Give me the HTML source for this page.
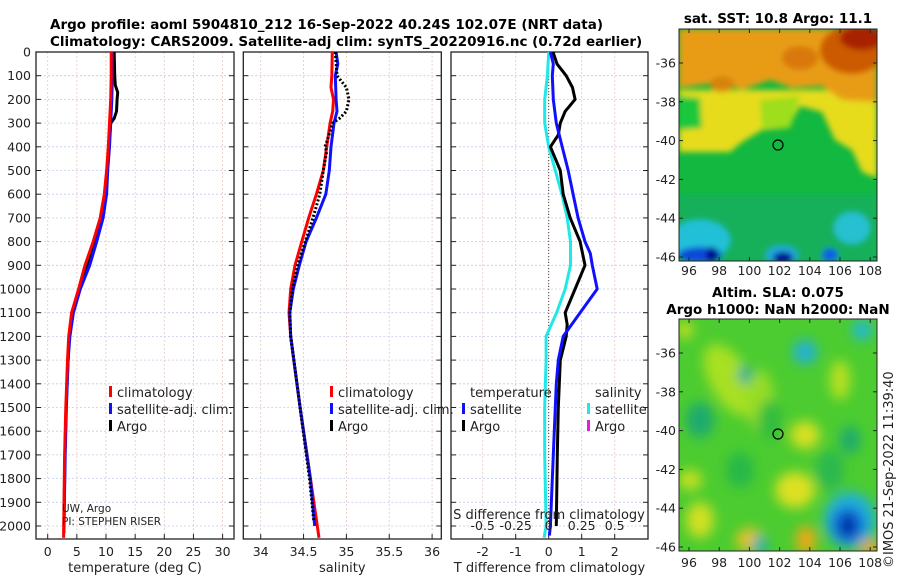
<!DOCTYPE html>
<html><head><meta charset="utf-8">
<style>
html,body{margin:0;padding:0;background:#fff;}
svg{display:block;font-family:"DejaVu Sans","Liberation Sans",sans-serif;}
</style></head>
<body>
<svg id="fig" width="900" height="580" viewBox="0 0 900 580" xmlns="http://www.w3.org/2000/svg">
<defs>
<filter id="blur1" x="-10%" y="-10%" width="120%" height="120%"><feGaussianBlur stdDeviation="3"/></filter>
<filter id="blur2" x="-20%" y="-20%" width="140%" height="140%"><feGaussianBlur stdDeviation="6"/></filter>
<clipPath id="clipTop"><rect x="679" y="29" width="198" height="232"/></clipPath>
<clipPath id="clipBot"><rect x="679" y="319" width="198" height="232"/></clipPath>
</defs>
<text x="50" y="29" font-size="13.5" font-weight="bold">Argo profile: aoml 5904810_212 16-Sep-2022 40.24S 102.07E (NRT data)</text>
<text x="50" y="46" font-size="13.5" font-weight="bold">Climatology: CARS2009. Satellite-adj clim: synTS_20220916.nc (0.72d earlier)</text>

<!-- top map -->
<g clip-path="url(#clipTop)">
  <rect x="679" y="29" width="198" height="232" fill="#12b840"/>
  <g filter="url(#blur1)">
    <rect x="679" y="195" width="198" height="70" fill="#14b05a"/>
    <polygon fill="#e6dc1e" points="679,90 877,90 877,178 862,172 852,150 835,140 822,112 800,106 788,128 762,130 742,142 730,152 679,152"/>
    <polygon fill="#9ede1e" points="760,100 800,96 790,128 762,128"/>
    <polygon fill="#1ec83a" points="679,96 700,98 702,128 679,130"/>
    <polygon fill="#e89c12" points="679,29 877,29 877,102 842,100 822,86 792,88 770,80 742,90 722,82 679,88"/>
    <ellipse cx="852" cy="50" rx="32" ry="24" fill="#cc5a06"/>
    <ellipse cx="862" cy="38" rx="22" ry="12" fill="#a82400"/>
    <ellipse cx="800" cy="58" rx="18" ry="12" fill="#d8780a"/>
    <ellipse cx="722" cy="84" rx="12" ry="8" fill="#d8820c"/>
    <ellipse cx="700" cy="240" rx="30" ry="20" fill="#20c0d8"/>
    <ellipse cx="700" cy="255" rx="22" ry="8" fill="#1048d8"/>
    <ellipse cx="712" cy="255" rx="6" ry="8" fill="#000090"/>
    <ellipse cx="782" cy="255" rx="16" ry="9" fill="#20a8e0"/>
    <ellipse cx="783" cy="258" rx="10" ry="6" fill="#000090"/>
    <ellipse cx="852" cy="228" rx="18" ry="16" fill="#28c0d0"/>
    <ellipse cx="830" cy="255" rx="8" ry="7" fill="#1060e0"/>
  </g>
  <circle cx="778" cy="145" r="5" fill="none" stroke="#000" stroke-width="1.2"/>
</g>
<rect x="679" y="29" width="198" height="232" fill="none" stroke="#222" stroke-width="1"/>
<text x="778" y="23" font-size="13.5" font-weight="bold" text-anchor="middle">sat. SST: 10.8 Argo: 11.1</text>

<!-- bottom map -->
<g clip-path="url(#clipBot)">
  <rect x="679" y="319" width="198" height="232" fill="#4ccc30"/>
  <g filter="url(#blur2)">
    <ellipse cx="730" cy="380" rx="20" ry="40" fill="#a8e020" transform="rotate(-30 730 380)"/>
    <ellipse cx="760" cy="400" rx="14" ry="30" fill="#98dc28"/>
    <ellipse cx="700" cy="420" rx="14" ry="18" fill="#1caa70"/>
    <ellipse cx="745" cy="375" rx="7" ry="9" fill="#18a8a0"/>
    <ellipse cx="805" cy="352" rx="12" ry="12" fill="#20b0d8"/>
    <ellipse cx="862" cy="330" rx="10" ry="10" fill="#20b8d8"/>
    <ellipse cx="805" cy="435" rx="15" ry="14" fill="#d6e020"/>
    <ellipse cx="795" cy="490" rx="20" ry="18" fill="#dde020"/>
    <ellipse cx="806" cy="540" rx="10" ry="14" fill="#f0a818"/>
    <ellipse cx="750" cy="540" rx="14" ry="12" fill="#e8c020"/>
    <ellipse cx="700" cy="520" rx="14" ry="18" fill="#d0e020"/>
    <ellipse cx="690" cy="480" rx="12" ry="10" fill="#c8e020"/>
    <ellipse cx="770" cy="420" rx="12" ry="20" fill="#30bc40"/>
    <ellipse cx="740" cy="470" rx="14" ry="18" fill="#28b848"/>
    <ellipse cx="830" cy="470" rx="14" ry="20" fill="#2cb850"/>
    <ellipse cx="850" cy="440" rx="10" ry="14" fill="#1caa70"/>
    <ellipse cx="760" cy="545" rx="8" ry="10" fill="#20b0b0"/>
    <ellipse cx="850" cy="520" rx="26" ry="28" fill="#20b0d8"/>
    <ellipse cx="848" cy="525" rx="16" ry="18" fill="#1060d8"/>
    <ellipse cx="848" cy="526" rx="7" ry="10" fill="#001a90"/>
    <ellipse cx="870" cy="548" rx="10" ry="8" fill="#f0a018"/>
    <ellipse cx="840" cy="380" rx="10" ry="20" fill="#b8e020"/>
    <ellipse cx="685" cy="330" rx="8" ry="8" fill="#d0e020"/>
  </g>
  <circle cx="778" cy="434" r="5" fill="none" stroke="#000" stroke-width="1.2"/>
</g>
<rect x="679" y="319" width="198" height="232" fill="none" stroke="#222" stroke-width="1"/>
<text x="778" y="297" font-size="13.5" font-weight="bold" text-anchor="middle">Altim. SLA: 0.075</text>
<text x="778" y="314" font-size="13.5" font-weight="bold" text-anchor="middle">Argo h1000: NaN h2000: NaN</text>
<text transform="translate(893 568) rotate(-90)" font-size="13" fill="#222">©IMOS 21-Sep-2022 11:39:40</text>

<g id="dyn"></g>
</svg>
<script>
// ---- data ----
const depthTicks = [0,100,200,300,400,500,600,700,800,900,1000,1100,1200,1300,1400,1500,1600,1700,1800,1900,2000];
const tempTicks = [0,5,10,15,20,25,30];
const salTicks = [34,34.5,35,35.5,36];
const tdiffTicks = [-2,-1,0,1,2];
const sdiffTicks = [-0.5,-0.25,0,0.25,0.5];
const sdiffTickLabels = ["-0.5","-0.25","0","0.25","0.5"];

const tClimDepth = [0,100,200,300,400,500,600,700,800,900,1000,1100,1200,1300,1500,1700,2000,2050];
const tClim = [10.9,10.9,10.8,10.6,10.4,10.1,9.7,9.0,7.8,6.4,5.3,4.1,3.6,3.4,3.1,2.9,2.75,2.72];
const tSatDepth = [0,100,200,300,400,500,600,700,800,900,1000,1100,1200,1300,1500,1700,2000,2030];
const tSat = [11.1,11.1,11.0,10.8,10.6,10.3,10.1,9.5,8.4,7.2,5.6,4.4,3.8,3.5,3.2,3.0,2.8,2.78];
const tArgoDepth = [0,100,140,170,200,250,280,300,400,500,600,700,800,900,1000,1100,1200,1300,1500,1700,1990];
const tArgo = [11.4,11.5,11.6,12.0,11.9,11.8,11.4,10.8,10.5,10.2,10.0,9.3,8.1,6.8,5.4,4.2,3.7,3.5,3.15,2.95,2.8];

const sClimDepth = [0,100,150,200,250,300,400,500,600,700,800,900,1000,1100,1200,1500,1700,2000,2050];
const sClim = [34.835,34.83,34.82,34.85,34.84,34.81,34.77,34.73,34.65,34.56,34.48,34.40,34.35,34.33,34.35,34.46,34.54,34.66,34.68];
const sSatDepth = [0,50,100,200,250,300,400,500,600,700,800,900,1000,1100,1200,1500,1800,2000];
const sSat = [34.88,34.90,34.87,34.88,34.89,34.855,34.82,34.80,34.76,34.65,34.53,34.45,34.38,34.34,34.35,34.46,34.58,34.63];
const sArgoDepth = [0,100,150,200,250,280,300,380,400,420,500,600,700,800,900,1000,1100,1200,1500,1800,1980];
const sArgo = [34.87,34.89,35.00,35.03,35.00,34.92,34.84,34.77,34.75,34.77,34.73,34.69,34.61,34.52,34.43,34.37,34.34,34.35,34.46,34.57,34.62];

const dTArgoDepth = [0,50,100,150,200,250,300,350,400,450,500,600,700,800,900,1000,1100,1150,1200,1300,1500,1700,2000];
const dTArgo = [0.13,0.25,0.53,0.72,0.80,0.50,0.35,0.29,0.05,0.2,0.35,0.44,0.65,0.95,1.10,0.80,0.50,0.56,0.53,0.35,0.29,0.26,0.23];
const dTSatDepth = [0,50,100,200,300,400,500,600,700,800,850,900,1000,1100,1200,1300,1400,1500,1700,2000,2040];
const dTSat = [0.05,0.14,0.11,0.14,0.23,0.41,0.59,0.74,0.89,1.10,1.26,1.32,1.47,0.95,0.44,0.29,0.23,0.20,0.14,0.05,0.02];
const dSSatDepth = [0,100,200,300,400,500,600,700,800,900,1000,1100,1200,1300,1500,1700,2000,2050];
const dSSat = [0.0,-0.01,-0.03,-0.03,0.0,0.05,0.10,0.14,0.165,0.165,0.125,0.06,-0.02,-0.02,-0.03,-0.03,-0.02,-0.035];

// ---- axes ----
const Y0 = 52, Y1 = 539;
const yD = d => Y0 + d * 0.237;
const xT = t => 47.7 + t * 5.83;
const xS = s => 260.7 + (s - 34) * 85.7;
const xDT = v => 548.7 + v * 33;
const xDS = v => 548.7 + v * 132;

const NS = "http://www.w3.org/2000/svg";
const root = document.getElementById('dyn');
function mk(tag, attrs, parent) {
  const e = document.createElementNS(NS, tag);
  for (const k in attrs) e.setAttribute(k, attrs[k]);
  (parent || root).appendChild(e);
  return e;
}

const panels = [
  {l:36, r:234, name:'temperature-panel', ticks:tempTicks, fx:xT, label:'temperature (deg C)', tl:t=>String(t)},
  {l:243.3, r:441.3, name:'salinity-panel', ticks:salTicks, fx:xS, label:'salinity', tl:t=>String(t)},
  {l:451, r:648, name:'difference-panel', ticks:tdiffTicks, fx:xDT, label:'T difference from climatology', tl:t=>String(t)}
];

panels.forEach((p, pi) => {
  const g = mk('g', {});
  
  
  depthTicks.forEach(d => {
    const y = yD(d);
    mk('line', {x1:p.l, x2:p.r, y1:y, y2:y, stroke:'#c4cbe8', 'stroke-width':0.8, 'stroke-dasharray':'2,2'}, g);
    mk('line', {x1:p.l, x2:p.l+5, y1:y, y2:y, stroke:'#222', 'stroke-width':1}, g);
    mk('line', {x1:p.r-5, x2:p.r, y1:y, y2:y, stroke:'#222', 'stroke-width':1}, g);
  });
  p.ticks.forEach(t => {
    const x = p.fx(t);
    mk('line', {x1:x, x2:x, y1:Y0, y2:Y1, stroke:'#e6c8c0', 'stroke-width':0.8, 'stroke-dasharray':'2,2'}, g);
    mk('line', {x1:x, x2:x, y1:Y1-5, y2:Y1, stroke:'#222', 'stroke-width':1}, g);
    const tx = mk('text', {x:x, y:556, 'font-size':12.5, 'text-anchor':'middle', fill:'#222'}, g);
    tx.textContent = p.tl(t);
    
    
  });
  mk('rect', {x:p.l, y:Y0, width:p.r-p.l, height:Y1-Y0, fill:'none', stroke:'#222', 'stroke-width':1.3}, g);
  const xl = mk('text', {x:(p.l+p.r)/2, y:572, 'font-size':13, 'text-anchor':'middle', fill:'#222'}, g);
  xl.textContent = p.label;
  
  
});

depthTicks.forEach(d => {
  const t = mk('text', {x:31, y:yD(d)+4.5, 'font-size':12.5, 'text-anchor':'end', fill:'#222'});
  t.textContent = String(d);
  
  
});

// zero line in difference panel
mk('line', {x1:xDT(0), x2:xDT(0), y1:Y0, y2:Y1, stroke:'#444', 'stroke-width':1, 'stroke-dasharray':'1,2'});

function series(xs, ds, fx, color, w, name, dash) {
  const pts = xs.map((v, i) => fx(v).toFixed(1) + ',' + yD(ds[i]).toFixed(1)).join(' ');
  const attrs = {points:pts, fill:'none', stroke:color, 'stroke-width':w, 'stroke-linejoin':'round'};
  if (dash) attrs['stroke-dasharray'] = dash;
  const e = mk('polyline', attrs);
  
  
}

series(tArgo, tArgoDepth, xT, '#000', 3, 'temp-argo-line');
series(tSat, tSatDepth, xT, '#1010ff', 3, 'temp-satellite-line');
series(tClim, tClimDepth, xT, '#ff0000', 3, 'temp-climatology-line');

series(sClim, sClimDepth, xS, '#ff0000', 3, 'sal-climatology-line');
series(sSat, sSatDepth, xS, '#1010ff', 3, 'sal-satellite-line');
series(sArgo, sArgoDepth, xS, '#000', 3, 'sal-argo-line', '2,2');

series(dSSat, dSSatDepth, xDS, '#20e8e8', 3, 'sdiff-satellite-line');
series(dTArgo, dTArgoDepth, xDT, '#000', 3, 'tdiff-argo-line');
series(dTSat, dTSatDepth, xDT, '#1010ff', 3, 'tdiff-satellite-line');

// S difference axis inside panel 3
sdiffTicks.forEach((v, i) => {
  const t = mk('text', {x:xDS(v), y:530, 'font-size':12.5, 'text-anchor':'middle', fill:'#222'});
  t.textContent = sdiffTickLabels[i];
  
  
});
const sdt = mk('text', {x:549, y:519, 'font-size':13, 'text-anchor':'middle', fill:'#222'});
sdt.textContent = 'S difference from climatology';



// legends
function legItem(x, y, color, label, name) {
  if (color) {
    const m = mk('rect', {x:x, y:y-11, width:3, height:11, fill:color});
    
    
  }
  const t = mk('text', {x:x+8, y:y, 'font-size':13, fill:'#222'});
  t.textContent = label;
  
  
}
legItem(109, 397, '#ff0000', 'climatology', 'legend-temp-climatology');
legItem(109, 414, '#1010ff', 'satellite-adj. clim.', 'legend-temp-satellite');
legItem(109, 431, '#000', 'Argo', 'legend-temp-argo');
legItem(330, 397, '#ff0000', 'climatology', 'legend-sal-climatology');
legItem(330, 414, '#1010ff', 'satellite-adj. clim.', 'legend-sal-satellite');
legItem(330, 431, '#000', 'Argo', 'legend-sal-argo');
legItem(462, 397, null, 'temperature', 'legend-diff-temperature-header');
legItem(462, 414, '#1010ff', 'satellite', 'legend-diff-temp-satellite');
legItem(462, 431, '#000', 'Argo', 'legend-diff-temp-argo');
legItem(587, 397, null, 'salinity', 'legend-diff-salinity-header');
legItem(587, 414, '#20e8e8', 'satellite', 'legend-diff-sal-satellite');
legItem(587, 431, '#e020e0', 'Argo', 'legend-diff-sal-argo');

const pi1 = mk('text', {x:62, y:512, 'font-size':10.5, fill:'#222'});
pi1.textContent = 'UW, Argo';


const pi2 = mk('text', {x:62, y:525, 'font-size':10.5, fill:'#222'});
pi2.textContent = 'PI: STEPHEN RISER';



// map axes
const lonTicks = [96,98,100,102,104,106,108];
const latTicks = [-36,-38,-40,-42,-44,-46];
const xLon = lon => 689 + (lon - 96) * 15.1;
[{top:29, bot:261, lab:275, y36:63, name:'sst-map'}, {top:319, bot:551, lab:567, y36:353, name:'sla-map'}].forEach(m => {
  lonTicks.forEach(lon => {
    const x = xLon(lon);
    mk('line', {x1:x, x2:x, y1:m.bot-4, y2:m.bot, stroke:'#222'});
    mk('line', {x1:x, x2:x, y1:m.top, y2:m.top+4, stroke:'#222'});
    const t = mk('text', {x:x, y:m.lab, 'font-size':12.5, 'text-anchor':'middle', fill:'#222'});
    t.textContent = String(lon);
    
    
  });
  latTicks.forEach(lat => {
    const y = m.y36 + (-36 - lat) * 19.4;
    mk('line', {x1:873, x2:877, y1:y, y2:y, stroke:'#222'});
    mk('line', {x1:679, x2:683, y1:y, y2:y, stroke:'#222'});
    if (m.name === 'sst-map') {
      const t = mk('text', {x:855, y:y+4.5, 'font-size':12.5, fill:'#222', 'text-anchor':'end'});
      t.textContent = String(lat);
      
      
      t.setAttribute('x', 676);
    } else {
      const t = mk('text', {x:676, y:y+4.5, 'font-size':12.5, fill:'#222', 'text-anchor':'end'});
      t.textContent = String(lat);
      
      
    }
  });
});
</script>
</body></html>
